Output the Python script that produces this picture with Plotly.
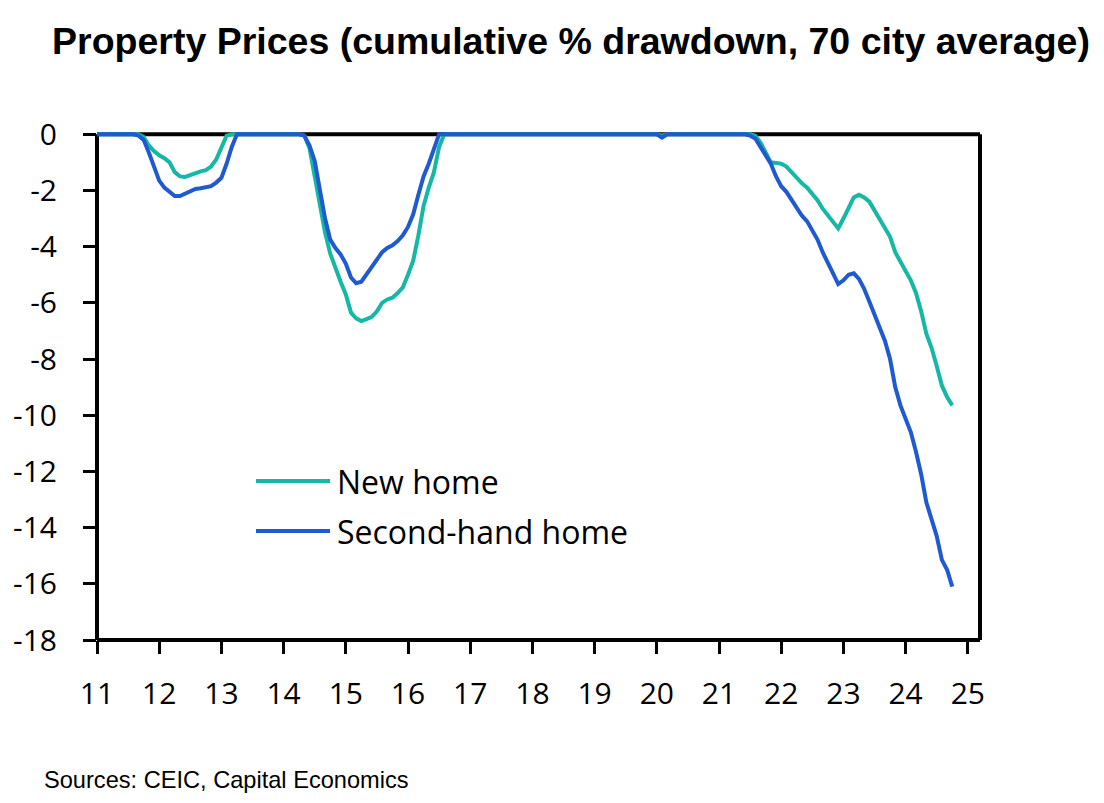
import plotly.graph_objects as go

# ---------------- data (monthly, Jan 2011 - Oct 2024) ----------------
years = list(range(2011, 2025))

new_home_by_year = {
    2011: [0, 0, 0, 0, 0, 0, 0, 0, 0, -0.1, -0.4, -0.6],
    2012: [-0.75, -0.85, -1.0, -1.35, -1.5, -1.52, -1.45, -1.38, -1.32, -1.28, -1.15, -0.9],
    2013: [-0.5, -0.05, 0, 0, 0, 0, 0, 0, 0, 0, 0, 0],
    2014: [0, 0, 0, 0, -0.05, -0.5, -1.5, -2.5, -3.5, -4.25, -4.8, -5.25],
    2015: [-5.7, -6.35, -6.55, -6.65, -6.58, -6.5, -6.3, -6.0, -5.88, -5.82, -5.65, -5.45],
    2016: [-5.0, -4.5, -3.6, -2.55, -1.9, -1.35, -0.45, 0, 0, 0, 0, 0],
    2017: [0] * 12,
    2018: [0] * 12,
    2019: [0] * 12,
    2020: [0, -0.05, 0, 0, 0, 0, 0, 0, 0, 0, 0, 0],
    2021: [0, 0, 0, 0, 0, 0, 0, -0.05, -0.3, -0.65, -1.0, -1.02],
    2022: [-1.05, -1.15, -1.35, -1.6, -1.75, -1.9, -2.1, -2.35, -2.65, -2.9, -3.15, -3.35],
    2023: [-3.0, -2.6, -2.25, -2.15, -2.25, -2.4, -2.7, -3.0, -3.35, -3.65, -4.2, -4.55],
    2024: [-4.85, -5.2, -5.65, -6.3, -7.1, -7.6, -8.25, -8.95, -9.35, -9.65],
}

second_hand_by_year = {
    2011: [0, 0, 0, 0, 0, 0, 0, 0, -0.05, -0.2, -0.65, -1.2],
    2012: [-1.65, -1.9, -2.05, -2.2, -2.2, -2.12, -2.02, -1.95, -1.92, -1.9, -1.85, -1.72],
    2013: [-1.55, -1.05, -0.45, 0, 0, 0, 0, 0, 0, 0, 0, 0],
    2014: [0, 0, 0, 0, -0.05, -0.4, -0.95, -1.95, -3.0, -3.75, -4.05, -4.28],
    2015: [-4.6, -5.1, -5.3, -5.25, -5.0, -4.75, -4.45, -4.2, -4.05, -3.95, -3.8, -3.6],
    2016: [-3.3, -2.85, -2.15, -1.5, -1.05, -0.55, 0, 0, 0, 0, 0, 0],
    2017: [0] * 12,
    2018: [0] * 12,
    2019: [0] * 12,
    2020: [0, -0.12, 0, 0, 0, 0, 0, 0, 0, 0, 0, 0],
    2021: [0, 0, 0, 0, 0, 0, -0.05, -0.15, -0.45, -0.75, -1.05, -1.5],
    2022: [-1.85, -2.05, -2.35, -2.6, -2.9, -3.1, -3.4, -3.75, -4.2, -4.55, -4.95, -5.33],
    2023: [-5.2, -5.0, -4.95, -5.15, -5.5, -5.95, -6.4, -6.85, -7.35, -8.0, -9.0, -9.65],
    2024: [-10.15, -10.6, -11.3, -12.1, -13.1, -13.7, -14.3, -15.15, -15.5, -16.1],
}

series_names = ["New home", "Second-hand home"]
series_colors = ["#14B8A4", "#1F5AD1"]

x_tick_vals = list(range(11, 26))
x_tick_text = [str(v) for v in x_tick_vals]
y_tick_vals = list(range(-18, 1, 2))
y_tick_text = [str(v) for v in y_tick_vals]

title_text = "Property Prices (cumulative % drawdown, 70 city average)"
source_text = "Sources: CEIC, Capital Economics"


def flatten(by_year):
    xs, ys = [], []
    for yr in years:
        for m, v in enumerate(by_year[yr]):
            xs.append((yr - 2000) + m / 12.0)
            ys.append(v)
    return xs, ys


x_new, y_new = flatten(new_home_by_year)
x_sec, y_sec = flatten(second_hand_by_year)

# ---------------- layout geometry ----------------
W, H = 1104, 803
ML, MR, MT, MB = 97, 124, 123, 163
X_RANGE = [11, 25.196]
Y_RANGE = [-18, 0.4]
plot_w = W - ML - MR
plot_h = H - MT - MB


def px_to_xpaper(px):
    return (px - ML) / plot_w


def py_to_ypaper(py):
    return (H - MB - py) / plot_h


def yval_to_paper(v):
    return (v - Y_RANGE[0]) / (Y_RANGE[1] - Y_RANGE[0])


TICK_FONT = dict(family="Open Sans, Noto Sans, sans-serif", size=30, color="black")

fig = go.Figure()
fig.add_trace(go.Scatter(x=x_new, y=y_new, mode="lines", name=series_names[0],
                         line=dict(color=series_colors[0], width=4), showlegend=False))
fig.add_trace(go.Scatter(x=x_sec, y=y_sec, mode="lines", name=series_names[1],
                         line=dict(color=series_colors[1], width=4), showlegend=False))

fig.update_layout(
    width=W, height=H,
    margin=dict(l=ML, r=MR, t=MT, b=MB, pad=0),
    paper_bgcolor="white", plot_bgcolor="white",
    showlegend=False,
    title=dict(text="<b>" + title_text + "</b>", x=571 / W, xanchor="center",
               xref="container", y=1 - 41 / H, yref="container", yanchor="middle",
               font=dict(family="Liberation Sans, Arial, sans-serif", size=37.5, color="black")),
    xaxis=dict(range=X_RANGE, showgrid=False, zeroline=False, showline=False,
               tickmode="array", tickvals=x_tick_vals, ticktext=x_tick_text,
               ticks="outside", ticklen=13, tickwidth=3, tickcolor="black",
               tickfont=TICK_FONT, ticklabelstandoff=14),
    yaxis=dict(range=Y_RANGE, showgrid=False, zeroline=False, showline=False,
               tickmode="array", tickvals=y_tick_vals, ticktext=y_tick_text,
               ticks="outside", ticklen=13, tickwidth=3, tickcolor="black",
               tickfont=TICK_FONT, ticklabelstandoff=20),
    yaxis2=dict(range=Y_RANGE, overlaying="y", side="right", anchor="x",
                showgrid=False, zeroline=False, showline=False,
                tickmode="array", tickvals=y_tick_vals, ticktext=y_tick_text,
                ticks="outside", ticklen=11, tickwidth=3, tickcolor="black",
                tickfont=TICK_FONT, ticklabelstandoff=22),
)

# frame: left, right, bottom and zero line on top
y0p = yval_to_paper(0)
frame = [(0, 0, 0, y0p), (1, 0, 1, y0p), (0, 0, 1, 0), (0, y0p, 1, y0p)]
for x0, y0, x1, y1 in frame:
    fig.add_shape(type="line", xref="paper", yref="paper", x0=x0, y0=y0, x1=x1, y1=y1,
                  line=dict(color="black", width=4), layer="below")

# legend drawn manually (long line swatches)
LEG_FONT = dict(family="Open Sans, Noto Sans, sans-serif", size=32, color="black")
for i, (name, col) in enumerate(zip(series_names, series_colors)):
    py = 481 + 50 * i
    fig.add_shape(type="line", xref="paper", yref="paper",
                  x0=px_to_xpaper(256), x1=px_to_xpaper(330),
                  y0=py_to_ypaper(py), y1=py_to_ypaper(py),
                  line=dict(color=col, width=4))
    fig.add_annotation(xref="paper", yref="paper", x=px_to_xpaper(335), y=py_to_ypaper(py),
                       xanchor="left", yanchor="middle", text=name, showarrow=False,
                       font=LEG_FONT)

fig.add_annotation(xref="paper", yref="paper", x=px_to_xpaper(42), y=py_to_ypaper(780),
                   xanchor="left", yanchor="middle", text=source_text, showarrow=False,
                   font=dict(family="Liberation Sans, Arial, sans-serif", size=23.6, color="black"))

fig.write_html("out.html", config={"displayModeBar": False},
               post_script="document.body.style.margin='0';")
